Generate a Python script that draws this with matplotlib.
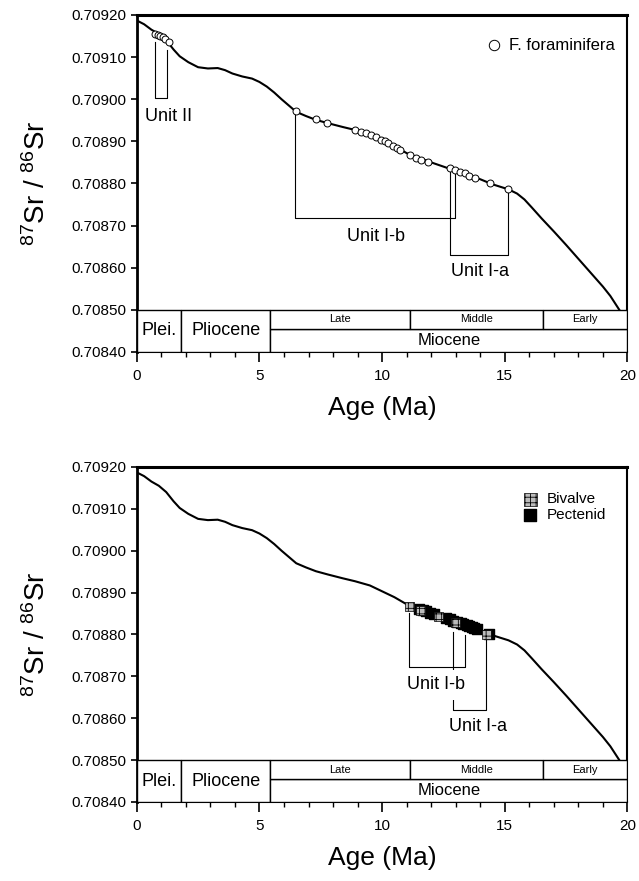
import matplotlib
matplotlib.use('Agg')
import matplotlib.pyplot as plt
from matplotlib.patches import Rectangle
from matplotlib.ticker import MultipleLocator, FormatStrFormatter

plt.rcParams['font.family'] = ['Liberation Sans', 'DejaVu Sans']
plt.rcParams['mathtext.default'] = 'regular'
plt.rcParams['hatch.linewidth'] = 0.6

# seawater 87Sr/86Sr reference curve
curve_age = [0.0, 0.3, 0.6, 0.9, 1.2, 1.5, 1.75, 2.1, 2.5, 2.9, 3.3, 3.6,
             3.9, 4.3, 4.7, 5.0, 5.3, 5.6, 5.9, 6.2, 6.5, 6.9, 7.3, 7.8,
             8.4, 8.9, 9.5, 10.0, 10.5, 11.0, 11.5, 12.0, 12.5, 13.0, 13.5,
             14.0, 14.5, 15.15, 15.5, 15.8, 16.1, 16.5, 17.0, 17.5, 18.0,
             18.5, 19.0, 19.3, 19.7]
curve_sr = [0.709187, 0.709178, 0.709165, 0.709155, 0.709140, 0.709118,
            0.709102, 0.709088, 0.709076, 0.709073, 0.709074, 0.709069,
            0.709061, 0.709054, 0.709049, 0.709041, 0.709030, 0.709016,
            0.709000, 0.708985, 0.708970, 0.708960, 0.708951, 0.708943,
            0.708934, 0.708927, 0.708917, 0.708903, 0.708889, 0.708872,
            0.708861, 0.708850, 0.708840, 0.708830, 0.708820, 0.708810,
            0.708798, 0.708786, 0.708776, 0.708762, 0.708743, 0.708717,
            0.708686, 0.708654, 0.708621, 0.708588, 0.708555, 0.708533,
            0.708497]

# top panel: foraminifera samples
foram_age = [0.75, 0.85, 0.95, 1.05, 1.15, 1.3,
             6.48, 7.29, 7.75, 8.88, 9.15, 9.35, 9.56, 9.76, 9.97, 10.1,
             10.24, 10.44, 10.6, 10.71, 11.12, 11.39, 11.6, 11.87,
             12.75, 12.95, 13.16, 13.36, 13.56, 13.8, 14.38, 15.15]
foram_sr = [0.709156, 0.709153, 0.709150, 0.709148, 0.709143, 0.709136,
            0.708972, 0.708952, 0.708944, 0.708928, 0.708923, 0.708919,
            0.708915, 0.708910, 0.708903, 0.708900, 0.708895, 0.708889,
            0.708885, 0.708880, 0.708867, 0.708860, 0.708856, 0.708852,
            0.708836, 0.708832, 0.708828, 0.708824, 0.708818, 0.708812,
            0.708800, 0.708786]

# bottom panel: shell samples
bivalve_age = [11.1, 11.55, 12.3, 13.0, 14.25]
bivalve_sr = [0.708866, 0.708858, 0.708842, 0.708829, 0.708801]
pecten_age = [11.5, 11.65, 11.8, 11.95, 12.1, 12.6, 12.75, 12.9, 13.05,
              13.2, 13.3, 13.45, 13.55, 13.65, 13.75, 13.85, 14.35]
pecten_sr = [0.708861, 0.708858, 0.708855, 0.708851, 0.708848, 0.708839,
             0.708836, 0.708833, 0.708830, 0.708827, 0.708825, 0.708822,
             0.708819, 0.708817, 0.708815, 0.708813, 0.708802]

# unit brackets: left age, right age, left top, right top, bottom
top_brackets = [(0.73, 1.24, 0.709135, 0.709118, 0.709002),
                (6.46, 12.95, 0.708966, 0.708829, 0.708717),
                (12.78, 15.15, 0.708832, 0.708782, 0.708630)]
top_labels = [('Unit II', 1.3, 0.708958),
              ('Unit I-b', 9.75, 0.708673),
              ('Unit I-a', 14.0, 0.708590)]
bottom_brackets = [(11.08, 13.36, 0.708851, 0.708799, 0.708723),
                   (12.89, 14.24, 0.708807, 0.708787, 0.708620)]
bottom_labels = [('Unit I-b', 12.2, 0.708680),
                 ('Unit I-a', 13.9, 0.708580)]

# time scale
epoch_names = ['Plei.', 'Pliocene']
epoch_bounds = [0.0, 1.8, 5.45]
miocene_bounds = [5.45, 20.0]
sub_names = ['Late', 'Middle', 'Early']
sub_bounds = [5.45, 11.15, 16.55, 20.0]
scale_bottom = 0.70840
scale_mid = 0.708455
scale_top = 0.70850


def setup_axes(ax):
    ax.set_xlim(0, 20)
    ax.set_ylim(0.70840, 0.70920)
    ax.xaxis.set_major_locator(MultipleLocator(5))
    ax.xaxis.set_minor_locator(MultipleLocator(1))
    ax.yaxis.set_major_locator(MultipleLocator(0.0001))
    ax.yaxis.set_major_formatter(FormatStrFormatter('%.5f'))
    ax.tick_params(which='major', direction='out', width=1.2, labelsize=11)
    ax.tick_params(axis='x', which='major', length=7, pad=5)
    ax.tick_params(axis='y', which='major', length=4.5, pad=3)
    ax.tick_params(which='minor', direction='out', length=3.5, width=1.0)
    for side in ax.spines:
        ax.spines[side].set_linewidth(1.5)
    ax.spines['top'].set_linewidth(2.2)
    ax.spines['left'].set_linewidth(2.0)
    ax.set_xlabel('Age (Ma)', fontsize=19)
    ax.xaxis.set_label_coords(0.5, -0.166)
    ax.xaxis.label.set_va('center')
    ax.set_ylabel('$^{87}$Sr / $^{86}$Sr', fontsize=20)
    ax.yaxis.set_label_coords(-0.175, 0.5)

    # geological time scale boxes
    for i, name in enumerate(epoch_names):
        x0, x1 = epoch_bounds[i], epoch_bounds[i + 1]
        ax.add_patch(Rectangle((x0, scale_bottom), x1 - x0,
                               scale_top - scale_bottom, facecolor='white',
                               edgecolor='black', lw=1.0, zorder=3))
        ax.text((x0 + x1) / 2, (scale_bottom + scale_top) / 2, name,
                ha='center', va='center', fontsize=13, zorder=4)
    x0, x1 = miocene_bounds
    ax.add_patch(Rectangle((x0, scale_bottom), x1 - x0,
                           scale_mid - scale_bottom, facecolor='white',
                           edgecolor='black', lw=1.0, zorder=3))
    ax.text((x0 + x1) / 2, (scale_bottom + scale_mid) / 2, 'Miocene',
            ha='center', va='center', fontsize=12, zorder=4)
    for i, name in enumerate(sub_names):
        x0, x1 = sub_bounds[i], sub_bounds[i + 1]
        ax.add_patch(Rectangle((x0, scale_mid), x1 - x0,
                               scale_top - scale_mid, facecolor='white',
                               edgecolor='black', lw=1.0, zorder=3))
        ax.text((x0 + x1) / 2, (scale_mid + scale_top) / 2, name,
                ha='center', va='center', fontsize=8, zorder=4)

    ax.plot(curve_age, curve_sr, color='black', lw=1.5, zorder=2)


def draw_brackets(ax, brackets, labels, boxed=False):
    for x0, x1, y0, y1, yb in brackets:
        ax.plot([x0, x0, x1, x1], [y0, yb, yb, y1], color='black', lw=0.8,
                zorder=1)
    for text, x, y in labels:
        bbox = None
        if boxed:
            bbox = dict(facecolor='white', edgecolor='none',
                        boxstyle='square,pad=0.35')
        ax.text(x, y, text, ha='center', va='center', fontsize=13,
                bbox=bbox, zorder=2)


fig = plt.figure(figsize=(6.39, 8.81), dpi=100)
ax1 = fig.add_axes([0.214, 0.6005, 0.768, 0.3825])
ax2 = fig.add_axes([0.214, 0.0897, 0.768, 0.3803])

# top panel
setup_axes(ax1)
draw_brackets(ax1, top_brackets, top_labels)
ax1.plot(foram_age, foram_sr, ls='none', marker='o', ms=5, mfc='white',
         mec='black', mew=0.7, zorder=5, label='F. foraminifera')
ax1.legend(loc='upper right', bbox_to_anchor=(1.005, 0.975), frameon=False,
           fontsize=12, markerscale=1.5, handletextpad=0.3,
           handlelength=1.2)

# bottom panel
setup_axes(ax2)
draw_brackets(ax2, bottom_brackets, bottom_labels, boxed=True)
ax2.scatter(pecten_age, pecten_sr, marker='s', s=42, color='black',
            zorder=5, label='Pectenid')
ax2.scatter(bivalve_age, bivalve_sr, marker='s', s=42, facecolor='#bbbbbb',
            edgecolor='black', hatch='+++', lw=0.5, zorder=6,
            label='Bivalve')
handles, names = ax2.get_legend_handles_labels()
ax2.legend(handles[::-1], names[::-1], loc='upper right',
           bbox_to_anchor=(0.985, 0.965), frameon=False, fontsize=11,
           handletextpad=0.6, labelspacing=0.1, handlelength=1.0,
           scatterpoints=1, markerscale=1.4)

fig.savefig('out.png', dpi=100)
